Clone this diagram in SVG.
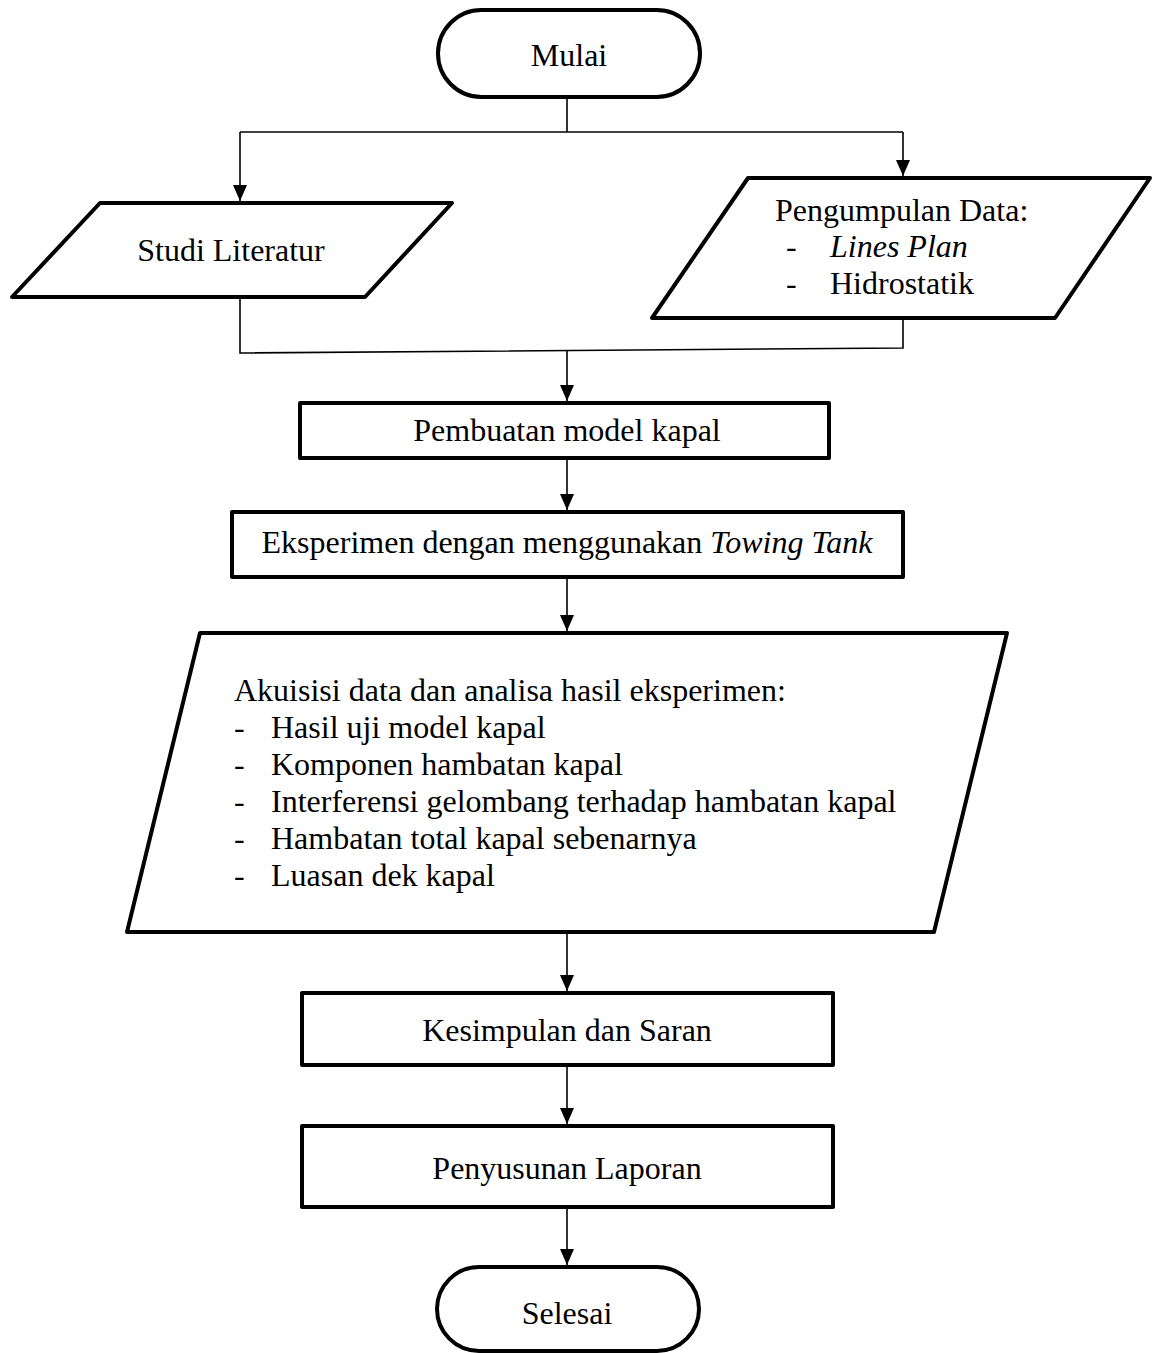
<svg xmlns="http://www.w3.org/2000/svg" width="1156" height="1353" viewBox="0 0 1156 1353">
<defs>
<style>
.shape{fill:#fff;stroke:#000;stroke-width:4;stroke-linejoin:round}
.conn{fill:none;stroke:#000;stroke-width:1.6}
text{font-family:"Liberation Serif","Times New Roman",serif;font-size:32px;fill:#000}
.c{text-anchor:middle}
.i{font-style:italic}
</style>
<marker id="ah" viewBox="0 0 16 14" refX="16" refY="7" markerWidth="16" markerHeight="14" markerUnits="userSpaceOnUse" orient="auto">
<path d="M0,0 L16,7 L0,14 z" fill="#000"/>
</marker>
</defs>
<rect width="1156" height="1353" fill="#fff"/>
<g id="connectors">
<path class="conn" d="M567,97 V132"/>
<path class="conn" d="M240,132 H903"/>
<path class="conn" d="M240,132 V201" marker-end="url(#ah)"/>
<path class="conn" d="M903,132 V176" marker-end="url(#ah)"/>
<path class="conn" d="M240,297 V353 L903,348 V318"/>
<path class="conn" d="M567,350 V401" marker-end="url(#ah)"/>
<path class="conn" d="M567,458 V510" marker-end="url(#ah)"/>
<path class="conn" d="M567,577 V631" marker-end="url(#ah)"/>
<path class="conn" d="M567,932 V991" marker-end="url(#ah)"/>
<path class="conn" d="M567,1065 V1124" marker-end="url(#ah)"/>
<path class="conn" d="M567,1207 V1265" marker-end="url(#ah)"/>
</g>
<g id="mulai">
<rect class="shape" x="438" y="10" width="262" height="87" rx="43.5"/>
<text class="c" x="569" y="66">Mulai</text>
</g>
<g id="studi-literatur">
<polygon class="shape" points="100,203 452,203 365,297 12,297"/>
<text class="c" x="231" y="261">Studi Literatur</text>
</g>
<g id="pengumpulan-data">
<polygon class="shape" points="748,178 1150,178 1055,318 652,318"/>
<text x="775" y="221">Pengumpulan Data:</text>
<text x="786" y="257">-</text>
<text class="i" x="830" y="257">Lines Plan</text>
<text x="786" y="294">-</text>
<text x="830" y="294">Hidrostatik</text>
</g>
<g id="pembuatan-model">
<rect class="shape" x="300" y="403" width="529" height="55"/>
<text class="c" x="567" y="441">Pembuatan model kapal</text>
</g>
<g id="eksperimen">
<rect class="shape" x="232" y="512" width="671" height="65"/>
<text class="c" x="567" y="553">Eksperimen dengan menggunakan <tspan class="i">Towing Tank</tspan></text>
</g>
<g id="akuisisi-data">
<polygon class="shape" points="200,633 1007,633 934,932 127,932"/>
<text x="234" y="701">Akuisisi data dan analisa hasil eksperimen:</text>
<text x="234" y="738">-</text><text x="271" y="738">Hasil uji model kapal</text>
<text x="234" y="775">-</text><text x="271" y="775">Komponen hambatan kapal</text>
<text x="234" y="812">-</text><text x="271" y="812">Interferensi gelombang terhadap hambatan kapal</text>
<text x="234" y="849">-</text><text x="271" y="849">Hambatan total kapal sebenarnya</text>
<text x="234" y="886">-</text><text x="271" y="886">Luasan dek kapal</text>
</g>
<g id="kesimpulan">
<rect class="shape" x="302" y="993" width="531" height="72"/>
<text class="c" x="567" y="1041">Kesimpulan dan Saran</text>
</g>
<g id="penyusunan">
<rect class="shape" x="302" y="1126" width="531" height="81"/>
<text class="c" x="567" y="1179">Penyusunan Laporan</text>
</g>
<g id="selesai">
<rect class="shape" x="437" y="1267" width="262" height="84" rx="42"/>
<text class="c" x="567" y="1324">Selesai</text>
</g>
</svg>
